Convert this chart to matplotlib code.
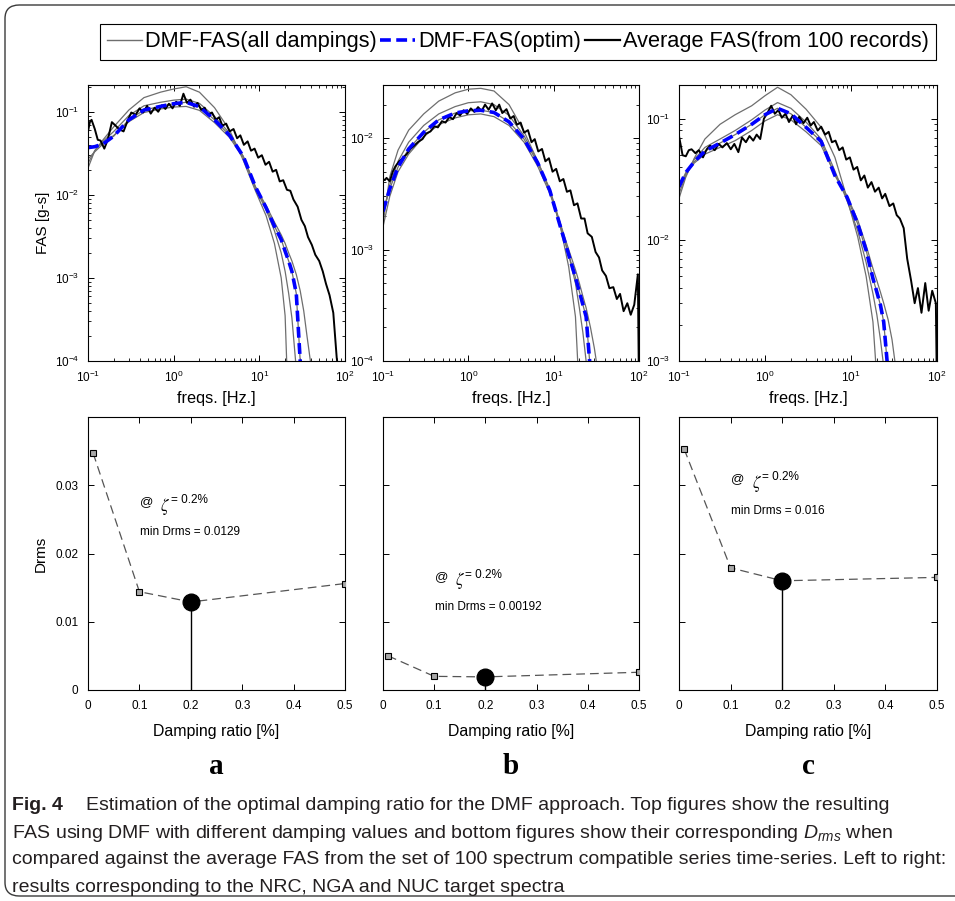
import numpy as np
import matplotlib
matplotlib.use('Agg')
import matplotlib.pyplot as plt
from matplotlib.patches import FancyBboxPatch
from matplotlib.lines import Line2D
from matplotlib.ticker import FixedLocator, NullFormatter, FuncFormatter

plt.rcParams['font.family'] = ['Liberation Sans', 'DejaVu Sans']
plt.rcParams['mathtext.fontset'] = 'custom'
plt.rcParams['mathtext.rm'] = 'Liberation Sans'
plt.rcParams['mathtext.it'] = 'Liberation Sans:italic'
plt.rcParams['xtick.direction'] = 'in'
plt.rcParams['ytick.direction'] = 'in'
plt.rcParams['xtick.top'] = True
plt.rcParams['ytick.right'] = True
plt.rcParams['axes.linewidth'] = 0.8

# ---- data ----
dampings = [0.01, 0.1, 0.2, 0.5]
optim_idx = 2

# frequencies for the smooth DMF-FAS curves (Hz)
f_dmf = [0.1, 0.12, 0.15, 0.2, 0.3, 0.45, 0.7, 1.0, 1.4, 2.0, 3.0, 4.5, 6.5, 9,
         12, 15, 18, 20, 22, 24, 27, 30, 33, 36, 40, 45]

# DMF-FAS per damping, panel a (NRC)
dmf_a_001 = [0.021, 0.034, 0.046, 0.066, 0.105, 0.148, 0.172, 0.188, 0.200, 0.172, 0.112, 0.060, 0.026,
             0.0112, 0.0056, 0.0026, 0.0010, 0.00035, 2e-5, 1e-6, 1e-6, 1e-6, 1e-6, 1e-6, 1e-6, 1e-6]
dmf_a_01 = [0.024, 0.034, 0.044, 0.058, 0.090, 0.118, 0.130, 0.138, 0.142, 0.126, 0.088, 0.055, 0.029,
            0.0120, 0.0066, 0.0037, 0.0020, 0.0012, 0.00065, 0.00033, 0.00008, 1e-6, 1e-6, 1e-6, 1e-6, 1e-6]
dmf_a_02 = [0.037, 0.038, 0.041, 0.051, 0.080, 0.105, 0.116, 0.125, 0.130, 0.115, 0.080, 0.052, 0.029,
            0.0125, 0.0070, 0.0042, 0.0029, 0.0021, 0.0016, 0.0012, 0.00065, 0.0001, 1e-6, 1e-6, 1e-6, 1e-6]
dmf_a_05 = [0.027, 0.033, 0.041, 0.052, 0.076, 0.098, 0.108, 0.114, 0.116, 0.104, 0.074, 0.049, 0.028,
            0.0125, 0.0074, 0.0047, 0.0033, 0.0026, 0.0020, 0.0016, 0.0011, 0.00070, 0.00040, 0.00020, 0.00009, 1e-6]

# panel b (NGA)
dmf_b_001 = [0.0017, 0.0045, 0.0078, 0.0118, 0.0165, 0.0215, 0.0255, 0.0275, 0.0280, 0.0265, 0.0200, 0.0115,
             0.0062, 0.0034, 0.0016, 0.00070, 0.00025, 0.00005, 1e-6, 1e-6, 1e-6, 1e-6, 1e-6, 1e-6, 1e-6, 1e-6]
dmf_b_01 = [0.0020, 0.0038, 0.0062, 0.0092, 0.0130, 0.0165, 0.0192, 0.0208, 0.0212, 0.0200, 0.0160, 0.0105,
            0.0062, 0.0035, 0.0017, 0.00090, 0.00050, 0.00030, 0.00018, 0.00010, 1e-6, 1e-6, 1e-6, 1e-6, 1e-6, 1e-6]
dmf_b_02 = [0.0022, 0.0035, 0.0055, 0.0080, 0.0113, 0.0146, 0.0168, 0.0176, 0.0178, 0.0170, 0.0140, 0.0098,
            0.0060, 0.0034, 0.0016, 0.00090, 0.00056, 0.00042, 0.00032, 0.00025, 0.00008, 1e-6, 1e-6, 1e-6, 1e-6, 1e-6]
dmf_b_05 = [0.0016, 0.0030, 0.0050, 0.0072, 0.0103, 0.0132, 0.0152, 0.0162, 0.0165, 0.0156, 0.0130, 0.0092,
            0.0056, 0.0032, 0.0017, 0.0010, 0.00066, 0.00050, 0.00038, 0.00030, 0.00020, 0.00013, 0.00008, 1e-6, 1e-6, 1e-6]

# panel c (NUC)
dmf_c_001 = [0.022, 0.033, 0.047, 0.068, 0.090, 0.108, 0.128, 0.155, 0.182, 0.158, 0.120, 0.085, 0.048,
             0.022, 0.0105, 0.0050, 0.0021, 0.0007, 1e-6, 1e-6, 1e-6, 1e-6, 1e-6, 1e-6, 1e-6, 1e-6]
dmf_c_01 = [0.024, 0.034, 0.046, 0.058, 0.068, 0.080, 0.098, 0.118, 0.136, 0.122, 0.094, 0.068, 0.037,
            0.021, 0.0118, 0.0065, 0.0036, 0.0024, 0.0015, 0.0009, 1e-6, 1e-6, 1e-6, 1e-6, 1e-6, 1e-6]
dmf_c_02 = [0.0275, 0.036, 0.044, 0.054, 0.063, 0.074, 0.090, 0.108, 0.122, 0.110, 0.085, 0.065, 0.034,
            0.0225, 0.0135, 0.0082, 0.0048, 0.0037, 0.0029, 0.0021, 0.0008, 1e-6, 1e-6, 1e-6, 1e-6, 1e-6]
dmf_c_05 = [0.026, 0.035, 0.043, 0.051, 0.058, 0.066, 0.080, 0.096, 0.108, 0.098, 0.078, 0.060, 0.035,
            0.023, 0.0145, 0.0090, 0.0058, 0.0046, 0.0037, 0.0030, 0.0022, 0.0015, 0.0009, 0.0006, 1e-6, 1e-6]

# average FAS of 100 records (noisy black curve)
f_avg = [0.10, 0.105, 0.11, 0.12, 0.13, 0.14, 0.155, 0.17, 0.19, 0.21, 0.23, 0.26, 0.29, 0.32, 0.36,
         0.40, 0.44, 0.49, 0.54, 0.60, 0.66, 0.73, 0.80, 0.88, 0.97, 1.07, 1.18, 1.30, 1.43, 1.57,
         1.73, 1.90, 2.1, 2.3, 2.5, 2.8, 3.1, 3.4, 3.7, 4.1, 4.5, 5.0, 5.5, 6.0, 6.6, 7.3, 8.0, 8.8,
         9.7, 10.7, 11.8, 13.0, 14.3, 15.7, 17.3, 19.0, 21, 23, 25, 28, 31, 34, 37, 41, 45, 50, 55,
         60, 66, 73, 80, 88, 97, 100]
avg_a = [0.058, 0.075, 0.080, 0.062, 0.046, 0.045, 0.036, 0.046, 0.075, 0.068, 0.062, 0.058, 0.078, 0.098,
         0.092, 0.110, 0.098, 0.118, 0.095, 0.112, 0.100, 0.120, 0.108, 0.125, 0.110, 0.132, 0.118, 0.165,
         0.128, 0.140, 0.115, 0.128, 0.105, 0.112, 0.092, 0.098, 0.080, 0.086, 0.068, 0.072, 0.058, 0.062,
         0.048, 0.052, 0.040, 0.044, 0.034, 0.036, 0.028, 0.030, 0.023, 0.025, 0.019, 0.020, 0.0145, 0.0150,
         0.0115, 0.0112, 0.0088, 0.0072, 0.0050, 0.0042, 0.0031, 0.0025, 0.0019, 0.0016, 0.0012, 0.00085,
         0.00062, 0.00038, 0.00011, 0.00005, np.nan, np.nan]
avg_b = [0.0043, 0.0042, 0.0044, 0.0041, 0.0050, 0.0056, 0.0062, 0.0066, 0.0072, 0.0080, 0.0085, 0.0093,
         0.0098, 0.0110, 0.0115, 0.0128, 0.0125, 0.0142, 0.0138, 0.0155, 0.0148, 0.0168, 0.0160, 0.0178,
         0.0165, 0.0185, 0.0172, 0.0190, 0.0175, 0.0200, 0.0180, 0.0205, 0.0178, 0.0200, 0.0168, 0.0182,
         0.0150, 0.0158, 0.0132, 0.0138, 0.0112, 0.0118, 0.0092, 0.0098, 0.0076, 0.0080, 0.0062, 0.0066,
         0.0050, 0.0053, 0.0041, 0.0043, 0.0033, 0.0034, 0.0025, 0.0026, 0.0019, 0.0019, 0.0014, 0.0013,
         0.00095, 0.00085, 0.00065, 0.00058, 0.00045, 0.00046, 0.00036, 0.00040, 0.00028, 0.00033,
         0.00026, 0.00032, 0.00060, 0.00005]
avg_c = [0.072, 0.060, 0.050, 0.049, 0.055, 0.056, 0.052, 0.055, 0.048, 0.056, 0.060, 0.055, 0.062, 0.058,
         0.063, 0.056, 0.062, 0.053, 0.070, 0.064, 0.072, 0.066, 0.074, 0.068, 0.100, 0.112, 0.128, 0.110,
         0.118, 0.102, 0.110, 0.094, 0.106, 0.090, 0.104, 0.092, 0.102, 0.088, 0.094, 0.080, 0.086, 0.074,
         0.078, 0.064, 0.066, 0.055, 0.058, 0.046, 0.048, 0.038, 0.040, 0.031, 0.034, 0.027, 0.030, 0.025,
         0.027, 0.022, 0.024, 0.019, 0.020, 0.016, 0.015, 0.0125, 0.0070, 0.0046, 0.0030, 0.0040, 0.0025,
         0.0044, 0.0026, 0.0038, 0.0030, 0.0005]

# Drms vs damping ratio
drms_a = [0.0347, 0.0144, 0.0129, 0.0156]
drms_b = [0.0050, 0.0020, 0.00192, 0.0026]
drms_c = [0.0353, 0.0179, 0.0160, 0.0165]
min_labels = ['min Drms = 0.0129', 'min Drms = 0.00192', 'min Drms = 0.016']

fas_ylims = [(1e-4, 0.21), (1e-4, 0.030), (1e-3, 0.19)]
drms_ticks = [0, 0.01, 0.02, 0.03]
drms_ticklabels = ['0', '0.01', '0.02', '0.03']
damp_ticks = [0, 0.1, 0.2, 0.3, 0.4, 0.5]
damp_ticklabels = ['0', '0.1', '0.2', '0.3', '0.4', '0.5']
panel_letters = ['a', 'b', 'c']
text_y = [(0.0275, 0.0232), (0.0166, 0.0122), (0.0309, 0.0263)]

dmf_sets = [[dmf_a_001, dmf_a_01, dmf_a_02, dmf_a_05],
            [dmf_b_001, dmf_b_01, dmf_b_02, dmf_b_05],
            [dmf_c_001, dmf_c_01, dmf_c_02, dmf_c_05]]
avg_sets = [avg_a, avg_b, avg_c]
drms_sets = [drms_a, drms_b, drms_c]

# ---- figure ----
W, H = 955, 901
fig = plt.figure(figsize=(W / 100, H / 100), dpi=100)
renderer = fig.canvas.get_renderer()


def fx(px):
    return px / W


def fy(py):
    return 1 - py / H


def fit_width(artist, target_px):
    # scale font so the text spans about the same width as in the original
    w = artist.get_window_extent(renderer).width
    artist.set_fontsize(artist.get_fontsize() * target_px / w)
    return artist.get_fontsize()


lefts = [88, 383, 679]
widths = [257, 256, 258]
log_fmt = FuncFormatter(lambda v, p: r'10$^{%d}$' % int(round(np.log10(v))))

for i in range(3):
    # top: FAS
    ax = fig.add_axes([fx(lefts[i]), fy(361), fx(widths[i]), 276 / H])
    for j, curve in enumerate(dmf_sets[i]):
        ax.plot(f_dmf, curve, color='#6e6e6e', lw=0.9)
    ax.plot(f_avg, avg_sets[i], color='black', lw=1.4)
    ax.plot(f_dmf, dmf_sets[i][optim_idx], color='#0000ff', lw=2.6, dashes=(3, 1.5))
    ax.set_xscale('log')
    ax.set_yscale('log')
    ax.set_xlim(0.1, 100)
    ax.set_ylim(*fas_ylims[i])
    ax.xaxis.set_major_locator(FixedLocator([0.1, 1, 10, 100]))
    ax.xaxis.set_major_formatter(log_fmt)
    ax.yaxis.set_major_formatter(log_fmt)
    ax.xaxis.set_minor_formatter(NullFormatter())
    ax.yaxis.set_minor_formatter(NullFormatter())
    ax.tick_params(which='major', length=4, width=0.7, labelsize=8.5, pad=6)
    ax.tick_params(which='minor', length=2, width=0.6)
    xl = ax.set_xlabel('freqs. [Hz.]', fontsize=12, labelpad=5)
    fit_width(xl, 78)
    if i == 0:
        ax.set_ylabel('FAS [g-s]', fontsize=11, labelpad=4)

    # bottom: Drms
    bx = fig.add_axes([fx(lefts[i]), fy(690), fx(widths[i]), 273 / H])
    d = drms_sets[i]
    bx.plot(dampings, d, color='#555555', lw=0.9, dashes=(7, 4), zorder=2)
    bx.plot([dampings[k] for k in (0, 1, 3)], [d[k] for k in (0, 1, 3)], ls='none', marker='s',
            ms=5, mfc='#a8a8a8', mec='black', mew=0.8, zorder=3)
    bx.vlines(dampings[optim_idx], 0, d[optim_idx], color='black', lw=1.0, zorder=2)
    bx.plot(dampings[optim_idx], d[optim_idx], marker='o', ms=12, color='black', zorder=4)
    bx.set_xlim(0, 0.5)
    bx.set_ylim(0, 0.04)
    bx.set_xticks(damp_ticks)
    bx.set_xticklabels(damp_ticklabels)
    bx.set_yticks(drms_ticks)
    if i == 0:
        bx.set_yticklabels(drms_ticklabels)
        bx.set_ylabel('Drms', fontsize=11, labelpad=5)
    else:
        bx.set_yticklabels([])
    bx.tick_params(length=4, width=0.7, labelsize=8.5, pad=7)
    dl = bx.set_xlabel('Damping ratio [%]', fontsize=11, labelpad=9)
    fit_width(dl, 126)

    ty1, ty2 = text_y[i]
    bx.text(0.101, ty1, '@', fontsize=9.5, va='center')
    bx.text(0.141, ty1 - 0.0006, r'$\zeta$', fontsize=12, va='center', math_fontfamily='stix')
    bx.text(0.161, ty1 + 0.0003, '= 0.2%', fontsize=8.5, va='center')
    bx.text(0.101, ty2, min_labels[i], fontsize=8.5, va='center')

    fig.text(fx(lefts[i] + widths[i] / 2), fy(767), panel_letters[i], fontsize=21,
             family='Liberation Serif', weight='bold', ha='center', va='center')

# legend
handles = [Line2D([], [], color='#6e6e6e', lw=1.0),
           Line2D([], [], color='#0000ff', lw=2.6, dashes=(3, 1.5)),
           Line2D([], [], color='black', lw=1.6)]
labels = ['DMF-FAS(all dampings)', 'DMF-FAS(optim)', 'Average FAS(from 100 records)']


def make_legend(size):
    lg = fig.legend(handles, labels, loc='center', bbox_to_anchor=(fx(518), fy(42)), ncol=3,
                    frameon=True, fancybox=False, edgecolor='black', framealpha=1,
                    prop={'size': size}, handlelength=1.6, handletextpad=0.15,
                    columnspacing=0.15, borderpad=0.35, borderaxespad=0)
    lg.get_frame().set_linewidth(0.8)
    return lg


leg = make_legend(15)
lw_px = leg.get_window_extent(renderer).width
leg.remove()
leg = make_legend(15 * 842 / lw_px)

# rounded outer border
fig.add_artist(FancyBboxPatch((fx(5), fy(896)), 1.2, (896 - 5) / H,
                              boxstyle='round,pad=0,rounding_size=0.015', transform=fig.transFigure,
                              fill=False, ec='#3a3a3a', lw=1.0))

# caption
cap_col = '#231f20'
cap_lines = ['Estimation of the optimal damping ratio for the DMF approach. Top figures show the resulting',
             'FAS using DMF with different damping values and bottom figures show their corresponding $D_{rms}$ when',
             'compared against the average FAS from the set of 100 spectrum compatible series time-series. Left to right:',
             'results corresponding to the NRC, NGA and NUC target spectra']
cap_x = [86, 12, 12, 12]
cap_y = [805, 833, 860, 887]
cap_texts = [fig.text(fx(x), fy(y), txt, fontsize=13, color=cap_col, va='center')
             for txt, x, y in zip(cap_lines, cap_x, cap_y)]
cap_size = fit_width(cap_texts[2], 928)
for t in cap_texts:
    t.set_fontsize(cap_size)
fig.text(fx(12), fy(805), 'Fig. 4', fontsize=cap_size, weight='bold', color=cap_col, va='center')

fig.savefig('out.png', dpi=100)
